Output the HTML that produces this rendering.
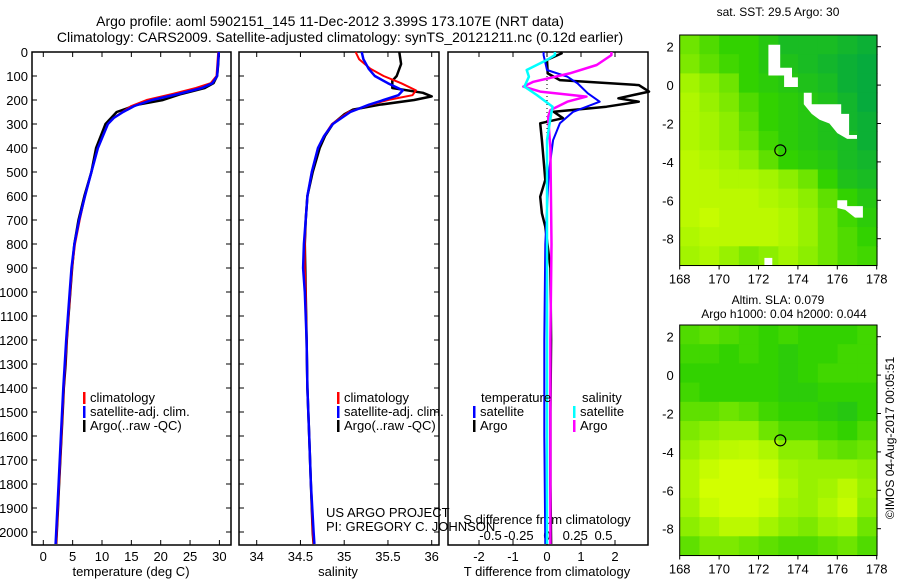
<!DOCTYPE html>
<html><head><meta charset="utf-8"><style>
html,body{margin:0;padding:0;background:#fff;}
svg{display:block;font-family:"Liberation Sans",sans-serif;}
</style></head><body>
<svg id="fig" width="900" height="580" viewBox="0 0 900 580" xmlns="http://www.w3.org/2000/svg">
<text x="330" y="26" font-size="14" text-anchor="middle">Argo profile: aoml 5902151_145 11-Dec-2012 3.399S 173.107E (NRT data)</text>
<text x="340" y="42" font-size="14" text-anchor="middle">Climatology: CARS2009. Satellite-adjusted climatology: synTS_20121211.nc (0.12d earlier)</text>
<text x="778" y="16" font-size="12" text-anchor="middle">sat. SST: 29.5 Argo: 30</text>
<text x="778" y="304" font-size="12" text-anchor="middle">Altim. SLA: 0.079</text>
<text x="784" y="318" font-size="12" text-anchor="middle">Argo h1000: 0.04 h2000: 0.044</text>
<text transform="translate(894,438) rotate(-90)" font-size="12" text-anchor="middle">©IMOS 04-Aug-2017 00:05:51</text>
<g id="g"></g>
</svg>
<script>
// ---- data ----
const depthTicks = [0,100,200,300,400,500,600,700,800,900,1000,1100,1200,1300,1400,1500,1600,1700,1800,1900,2000];
const tempTicks = [0,5,10,15,20,25,30];
const salTicks = [34,34.5,35,35.5,36];
const salTickLabels = ["34","34.5","35","35.5","36"];
const tdTicks = [-2,-1,0,1,2];
const sdTicks = [-0.5,-0.25,0,0.25,0.5];
const sdTickLabels = ["-0.5","-0.25","0","0.25","0.5"];

const tArgoDepth = [0,50,100,130,150,175,200,220,250,300,400,500,600,700,800,900,1000,1100,1200,1300,1400,1500,1600,1700,1800,1900,2000,2050];
const tArgo = [29.9,29.8,29.6,29.0,27.5,23.5,20.4,16,12.5,10.6,9.0,8.2,7.0,6.0,5.3,4.9,4.6,4.3,4.0,3.8,3.5,3.3,3.1,2.9,2.7,2.5,2.3,2.2];
const tClimDepth = [0,100,130,150,175,200,225,250,275,300,400,500,600,700,800,900,1000,1200,1400,1600,1800,2000,2050];
const tClim = [29.8,29.5,28.5,26,22,17.6,15,13.5,12,11,9.3,8.2,7.1,6.2,5.4,4.9,4.6,4.0,3.5,3.1,2.7,2.3,2.2];
const tSat = [29.9,29.6,28.8,27,23,18.5,15.5,13.6,12,11,9.3,8.2,7.1,6.1,5.3,4.8,4.5,3.9,3.4,3.0,2.6,2.2,2.1];

const sArgoDepth = [0,50,100,120,150,170,185,200,220,240,260,300,350,400,500,600,700,800,1000,1200,1400,1600,1800,2000,2050];
const sArgo = [35.63,35.65,35.6,35.55,35.55,35.9,36.0,35.8,35.4,35.1,35.0,34.87,34.78,34.72,34.64,34.58,34.56,34.55,34.56,34.57,34.58,34.6,34.62,34.64,34.65];
const sClimDepth = [0,30,70,100,130,160,180,200,220,250,300,350,400,500,600,700,800,900,1000,1200,1400,1600,1800,2000,2050];
const sClim = [35.13,35.17,35.3,35.45,35.65,35.82,35.78,35.5,35.3,35.05,34.86,34.77,34.7,34.63,34.58,34.56,34.55,34.55,34.56,34.57,34.58,34.6,34.62,34.64,34.65];
const sSat = [35.2,35.22,35.28,35.35,35.5,35.67,35.62,35.45,35.28,35.07,34.87,34.77,34.7,34.63,34.58,34.56,34.54,34.53,34.55,34.57,34.58,34.6,34.62,34.65,34.66];

const dTArgoDepth = [0,6,33,89,117,138,165,193,207,228,249,276,297,367,533,603,672,728,900,1200,1500,1800,2050];
const dTArgo = [0.4,0.43,0.0,0.02,0.38,2.7,3.0,2.1,2.7,1.75,0.2,0.47,-0.2,-0.15,-0.05,-0.2,-0.15,-0.05,0.1,0.12,0.1,0.1,0.12];
const dTSatDepth = [0,13,75,103,131,172,207,249,297,367,506,800,1200,1600,2050];
const dTSat = [-0.1,-0.1,0,0.6,0.9,1.2,1.55,0.77,0.38,0.18,0.05,-0.05,-0.08,-0.08,-0.05];
const dSArgoDepth = [0,13,54,89,124,144,165,186,207,242,270,400,800,1200,2050];
const dSArgo = [0.57,0.57,0.44,0.2,-0.12,-0.21,-0.06,0.35,0.18,0.03,0.01,0.03,0.04,0.03,0.03];
const dSSatDepth = [0,13,33,75,103,144,179,228,249,367,800,1200,2050];
const dSSat = [0.07,0.07,0,-0.18,-0.16,-0.2,-0.09,0.05,0.04,0,0,0,0];

const mapLonTicks = [168,170,172,174,176,178];
const mapLatTicks = [2,0,-2,-4,-6,-8];
const sstGrid = [
[.4,.5,.6,.6,.7,.8,.8,.8,.85,.9],
[.35,.45,.55,.6,.7,.75,.8,.85,.9,.95],
[.2,.3,.4,.6,.65,.7,.75,.8,.9,.95],
[.15,.25,.35,.5,.6,.65,.7,.75,.85,.95],
[.15,.2,.3,.45,.6,.65,.7,.75,.85,.9],
[.15,.2,.3,.4,.55,.65,.7,.75,.8,.9],
[.1,.15,.2,.3,.45,.6,.65,.7,.8,.85],
[.1,.1,.15,.15,.2,.3,.4,.6,.75,.8],
[.1,.1,.1,.1,.15,.2,.3,.45,.6,.7],
[.1,.05,.1,.1,.1,.15,.25,.4,.55,.65],
[.15,.1,.1,.1,.1,.15,.25,.4,.5,.6],
[.2,.15,.25,.35,.3,.2,.3,.4,.5,.55]];
const slaGrid = [
[.5,.45,.5,.55,.6,.55,.6,.6,.6,.55],
[.55,.55,.6,.55,.6,.65,.6,.6,.55,.55],
[.6,.6,.6,.6,.6,.65,.6,.55,.55,.55],
[.55,.6,.6,.6,.6,.65,.65,.6,.6,.6],
[.45,.45,.4,.45,.55,.6,.6,.65,.7,.6],
[.35,.3,.25,.25,.4,.5,.5,.55,.6,.5],
[.25,.15,.1,.08,.15,.3,.3,.4,.45,.4],
[.15,.05,0,0,.05,.2,.25,.25,.25,.3],
[.15,0,0,0,0,.15,.25,.2,.1,.25],
[.2,.05,0,0,.05,.2,.25,.15,.05,.3],
[.3,.2,.1,.1,.2,.3,.35,.25,.2,.4],
[.45,.35,.35,.4,.45,.5,.5,.45,.4,.5]];
const floatLon = 173.107, floatLat = -3.399;

// ---- helpers ----
const NS = "http://www.w3.org/2000/svg";
const G = document.getElementById('g');
function mk(tag, attrs, parent){ const e=document.createElementNS(NS,tag); for(const k in attrs) e.setAttribute(k,attrs[k]); (parent||G).appendChild(e); return e; }
function txt(x,y,s,anchor,size){ const t=mk('text',{x:x,y:y,'font-size':size||12,'text-anchor':anchor||'start'}); t.textContent=s; return t; }

const TOP=52, BOT=545;
const yD = d => 52 + d*0.24;
const xT = t => 43.3 + t*5.87;
const xS = s => 256.7 + (s-34)*87.5;
const xDT = t => 547 + t*34;
const xDS = s => 547 + s*113;

function panel(x0,x1,name,leftTicks,rightTicks){
  const r=mk('rect',{x:x0,y:TOP,width:x1-x0,height:BOT-TOP,fill:'none',stroke:'#000','stroke-width':1.5});
  
  
  depthTicks.forEach(d=>{
    if(leftTicks) mk('line',{x1:x0,x2:x0+5,y1:yD(d),y2:yD(d),stroke:'#000'});
    if(rightTicks) mk('line',{x1:x1-5,x2:x1,y1:yD(d),y2:yD(d),stroke:'#000'});
  });
}
panel(32,231,'temperature-panel',true,true);
panel(239,439,'salinity-panel',true,true);
panel(448,648,'difference-panel',false,false);

depthTicks.forEach(d=>{ const t=txt(28,yD(d)+5,String(d),'end',13);
  
   });

tempTicks.forEach(v=>{ const x=xT(v);
  mk('line',{x1:x,x2:x,y1:TOP,y2:TOP+5,stroke:'#000'}); mk('line',{x1:x,x2:x,y1:BOT-5,y2:BOT,stroke:'#000'});
  const t=txt(x,561,String(v),'middle',13);
  
   });
salTicks.forEach((v,i)=>{ const x=xS(v);
  mk('line',{x1:x,x2:x,y1:TOP,y2:TOP+5,stroke:'#000'}); mk('line',{x1:x,x2:x,y1:BOT-5,y2:BOT,stroke:'#000'});
  const t=txt(x,561,salTickLabels[i],'middle',13);
  
   });
tdTicks.forEach(v=>{ const x=xDT(v);
  mk('line',{x1:x,x2:x,y1:TOP,y2:TOP+5,stroke:'#000'}); mk('line',{x1:x,x2:x,y1:BOT-5,y2:BOT,stroke:'#000'});
  const t=txt(x,561,String(v),'middle',13);
  
   });
sdTicks.forEach((v,i)=>{ const t=txt(xDS(v),540,sdTickLabels[i],'middle',13);
  
   });

let t;
t=txt(131,576,'temperature (deg C)','middle',13);  
t=txt(338,576,'salinity','middle',13);  
t=txt(547,576,'T difference from climatology','middle',13);  
t=txt(547,524,'S difference from climatology','middle',13);  
t=txt(326,517,'US ARGO PROJECT','start',13);  
t=txt(326,531,'PI: GREGORY C. JOHNSON','start',13);  

// zero line
const z=mk('line',{x1:xDT(0),x2:xDT(0),y1:TOP,y2:BOT,stroke:'#000','stroke-dasharray':'1,3'});



function series(depths, vals, xf, color, name, w){
  const pts=depths.map((d,i)=>xf(vals[i]).toFixed(1)+','+yD(d).toFixed(1)).join(' ');
  const p=mk('polyline',{points:pts,fill:'none',stroke:color,'stroke-width':w||2,'stroke-linejoin':'round'});
  
  
}
series(tArgoDepth,tArgo,xT,'#000','temp-argo-line',2.5);
series(tClimDepth,tClim,xT,'#f00','temp-climatology-line');
series(tClimDepth,tSat,xT,'#00f','temp-satellite-line',2.5);
series(sArgoDepth,sArgo,xS,'#000','sal-argo-line',2.5);
series(sClimDepth,sClim,xS,'#f00','sal-climatology-line');
series(sClimDepth,sSat,xS,'#00f','sal-satellite-line',2.5);
series(dTArgoDepth,dTArgo,xDT,'#000','t-diff-argo-line',2.5);
series(dTSatDepth,dTSat,xDT,'#00f','t-diff-satellite-line');
series(dSArgoDepth,dSArgo,xDS,'#f0f','s-diff-argo-line',2.5);
series(dSSatDepth,dSSat,xDS,'#0ff','s-diff-satellite-line',2.5);

function legendRow(x,y,color,label){
  const m=mk('rect',{x:x,y:y-10,width:2.5,height:12,fill:color});
  
  
  const l=txt(x+7,y,label,'start',13);
  
  
}
[[83,'#f00','climatology'],[83,'#00f','satellite-adj. clim.'],[83,'#000','Argo(..raw -QC)']].forEach((r,i)=>legendRow(r[0],402+i*14,r[1],r[2]));
[[337,'#f00','climatology'],[337,'#00f','satellite-adj. clim.'],[337,'#000','Argo(..raw -QC)']].forEach((r,i)=>legendRow(r[0],402+i*14,r[1],r[2]));
t=txt(481,402,'temperature','start',13);  
t=txt(582,402,'salinity','start',13);  
legendRow(473,416,'#00f','satellite'); legendRow(473,430,'#000','Argo');
legendRow(573,416,'#0ff','satellite'); legendRow(573,430,'#f0f','Argo');

// ---- maps ----
function colr(v){
  const stops=[[0,[210,255,0]],[0.3,[140,238,0]],[0.6,[50,210,0]],[1,[0,165,70]]];
  for(let i=1;i<stops.length;i++){ if(v<=stops[i][0]){ const a=stops[i-1],b=stops[i]; const f=(v-a[0])/(b[0]-a[0]);
    return 'rgb('+a[1].map((c,k)=>Math.round(c+(b[1][k]-c)*f)).join(',')+')'; } }
  return 'rgb(0,165,70)';
}
function drawMap(top, grid, name, whites){
  const x0=679.7, x1=877, bot=top+230.5;
  const lonX = lon => x0 + (lon-168)*19.7;
  const latY = lat => top + 11.7 + (2-lat)*19.2;
  const cw=(x1-x0)/grid[0].length, ch=(bot-top)/grid.length;
  grid.forEach((row,r)=>row.forEach((v,c)=>{
    const cell=mk('rect',{x:x0+c*cw,y:top+r*ch,width:cw+0.6,height:ch+0.6,fill:colr(v)});
    
    
  }));
  (whites||[]).forEach(w=>{ const p=mk('polygon',{points:w.map(q=>lonX(q[0]).toFixed(1)+','+latY(q[1]).toFixed(1)).join(' '),fill:'#fff'});
      });
  const f=mk('rect',{x:x0,y:top,width:x1-x0,height:bot-top,fill:'none',stroke:'#000','stroke-width':1});
  
  
  mapLonTicks.forEach(lon=>{ const x=lonX(lon);
    mk('line',{x1:x,x2:x,y1:bot,y2:bot+4,stroke:'#000'});
    const l=txt(x,bot+18,String(lon),'middle',13);
      });
  mapLatTicks.forEach(lat=>{ const y=latY(lat);
    mk('line',{x1:x1,x2:x1+4,y1:y,y2:y,stroke:'#000'});
    const l=txt(x0-6,y+5,String(lat),'end',13);
      });
  const c=mk('circle',{cx:lonX(floatLon),cy:latY(floatLat),r:5.5,fill:'none',stroke:'#000','stroke-width':1.2});
  
  
}
drawMap(35, sstGrid, 'sst-map', [
  [[172.5,2.1],[173.1,2.1],[173.1,0.9],[173.7,0.9],[173.7,0.4],[174.0,0.4],[174.0,-0.1],[173.3,-0.1],[173.3,0.5],[172.5,0.5]],
  [[174.3,-0.4],[174.7,-0.4],[174.7,-1.0],[176.2,-1.0],[176.2,-1.5],[176.6,-1.5],[176.6,-2.6],[177.0,-2.6],[177.0,-2.8],[176.5,-2.8],[176.0,-2.5],[175.6,-2.0],[175.1,-1.8],[174.7,-1.5],[174.3,-1.0]],
  [[176.0,-6.0],[176.5,-6.0],[176.5,-6.3],[177.3,-6.3],[177.3,-6.9],[176.9,-6.9],[176.4,-6.5],[176.0,-6.4]],
  [[172.3,-9.0],[172.7,-9.0],[172.7,-9.5],[172.3,-9.5]]
]);
drawMap(325, slaGrid, 'sla-map', []);
</script>
</body></html>
